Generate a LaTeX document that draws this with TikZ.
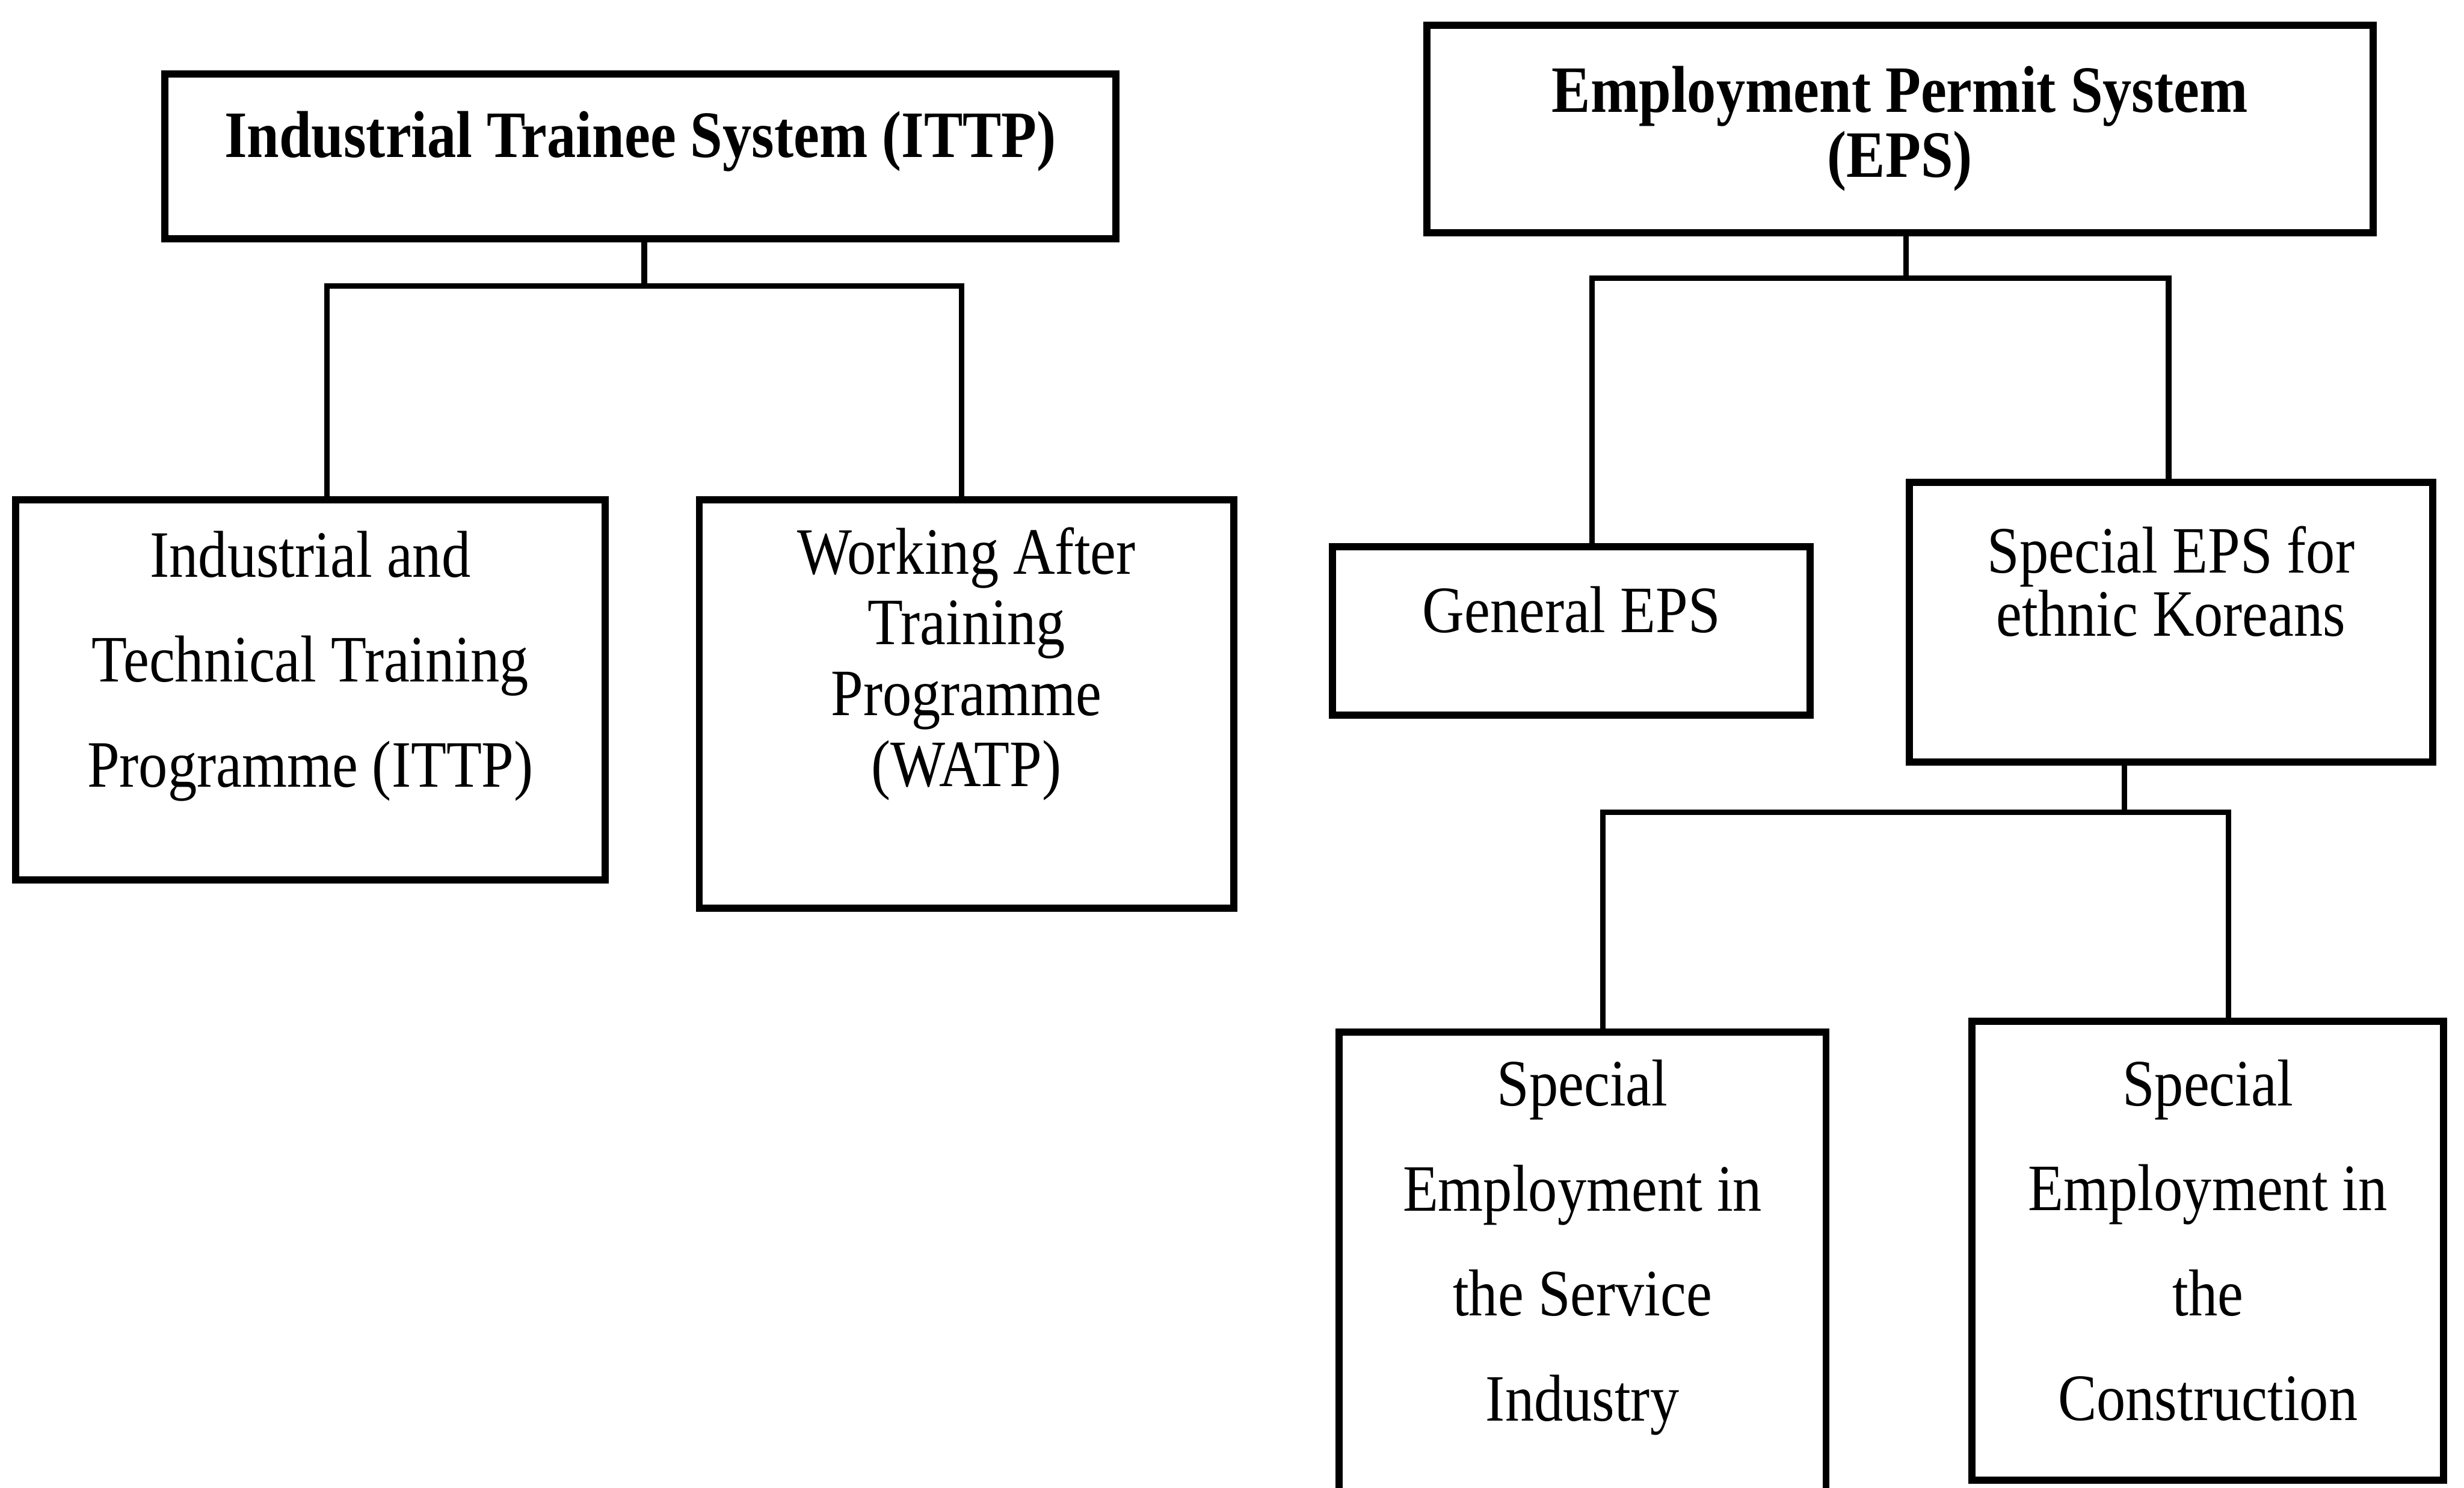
\documentclass[tikz,border=0pt]{standalone}
\usepackage{fontspec}
\setmainfont{Liberation Serif}[FakeStretch=0.875]
\begin{document}
\begin{tikzpicture}[%
      every node/.style={inner sep=0pt,outer sep=0pt},
      box/.style={draw,line width=1.3pt,rectangle},
      txt/.style={align=center,font=\fontsize{12}{12.3}\selectfont},
      wide/.style={align=center,font=\fontsize{12}{19}\selectfont},
      link/.style={draw,line width=1pt}]
      \useasboundingbox(0,0)rectangle(15.68,-9.47);
      \clip(0,0)rectangle(15.68,-9.47);
      % left tree
      \node[box,minimum width=6.05cm,minimum height=1.05cm]at(4.075,-0.995)(ittp){};
      \node[box,minimum width=3.75cm,minimum height=2.42cm]at(1.975,-4.39)(itp){};
      \node[box,minimum width=3.40cm,minimum height=2.60cm]at(6.15,-4.48)(watp){};
      \node[txt]at([yshift=0.095cm]ittp.center)(ittptxt)
      {\textbf{Industrial Trainee System (ITTP)}};
      \node[wide]at([yshift=0.15cm]itp.center)(itptxt)
      {Industrial and\\Technical Training\\Programme (ITTP)};
      \node[txt,font=\fontsize{12}{12.8}\selectfont]at([yshift=0.255cm]watp.center)(watptxt)
      {Working After\\Training\\Programme\\(WATP)};
      \path[link]([xshift=0.025cm]ittp.south)--++(0,-0.3)coordinate(ittpj);
      \path[link]([xshift=0.105cm]itp.north)|-(ittpj)-|([xshift=-0.03cm]watp.north);
      % right tree
      \node[box,minimum width=6.02cm,minimum height=1.32cm]at(12.09,-0.82)(eps){};
      \node[box,minimum width=3.04cm,minimum height=1.07cm]at(10.00,-4.015)(geps){};
      \node[box,minimum width=3.33cm,minimum height=1.78cm]at(13.815,-3.96)(seps){};
      \node[box,minimum width=3.10cm,minimum height=3.43cm]at(10.07,-8.285)(serv){};
      \node[box,minimum width=3.00cm,minimum height=2.92cm]at(14.05,-7.96)(cons){};
      \node[txt,font=\fontsize{12}{11.7}\selectfont]at(eps.center)(epstxt)
      {\textbf{Employment Permit System}\\\textbf{(EPS)}};
      \node[txt]at([yshift=0.135cm]geps.center)(gepstxt){General EPS};
      \node[txt,font=\fontsize{12}{11.5}\selectfont]at([yshift=0.26cm]seps.center)(sepstxt)
      {Special EPS for\\ethnic Koreans};
      \node[wide]at([yshift=0.345cm]serv.center)(servtxt)
      {Special\\Employment in\\the Service\\Industry};
      \node[wide]at([yshift=0.065cm]cons.center)(constxt)
      {Special\\Employment in\\the\\Construction};
      \path[link]([xshift=0.04cm]eps.south)--++(0,-0.29)coordinate(epsj);
      \path[link]([xshift=0.13cm]geps.north)|-(epsj)-|([xshift=-0.015cm]seps.north);
      \path[link]([xshift=-0.295cm]seps.south)--++(0,-0.32)coordinate(sepsj);
      \path[link]([xshift=0.13cm]serv.north)|-(sepsj)-|([xshift=0.13cm]cons.north);
    \end{tikzpicture}
\end{document}
